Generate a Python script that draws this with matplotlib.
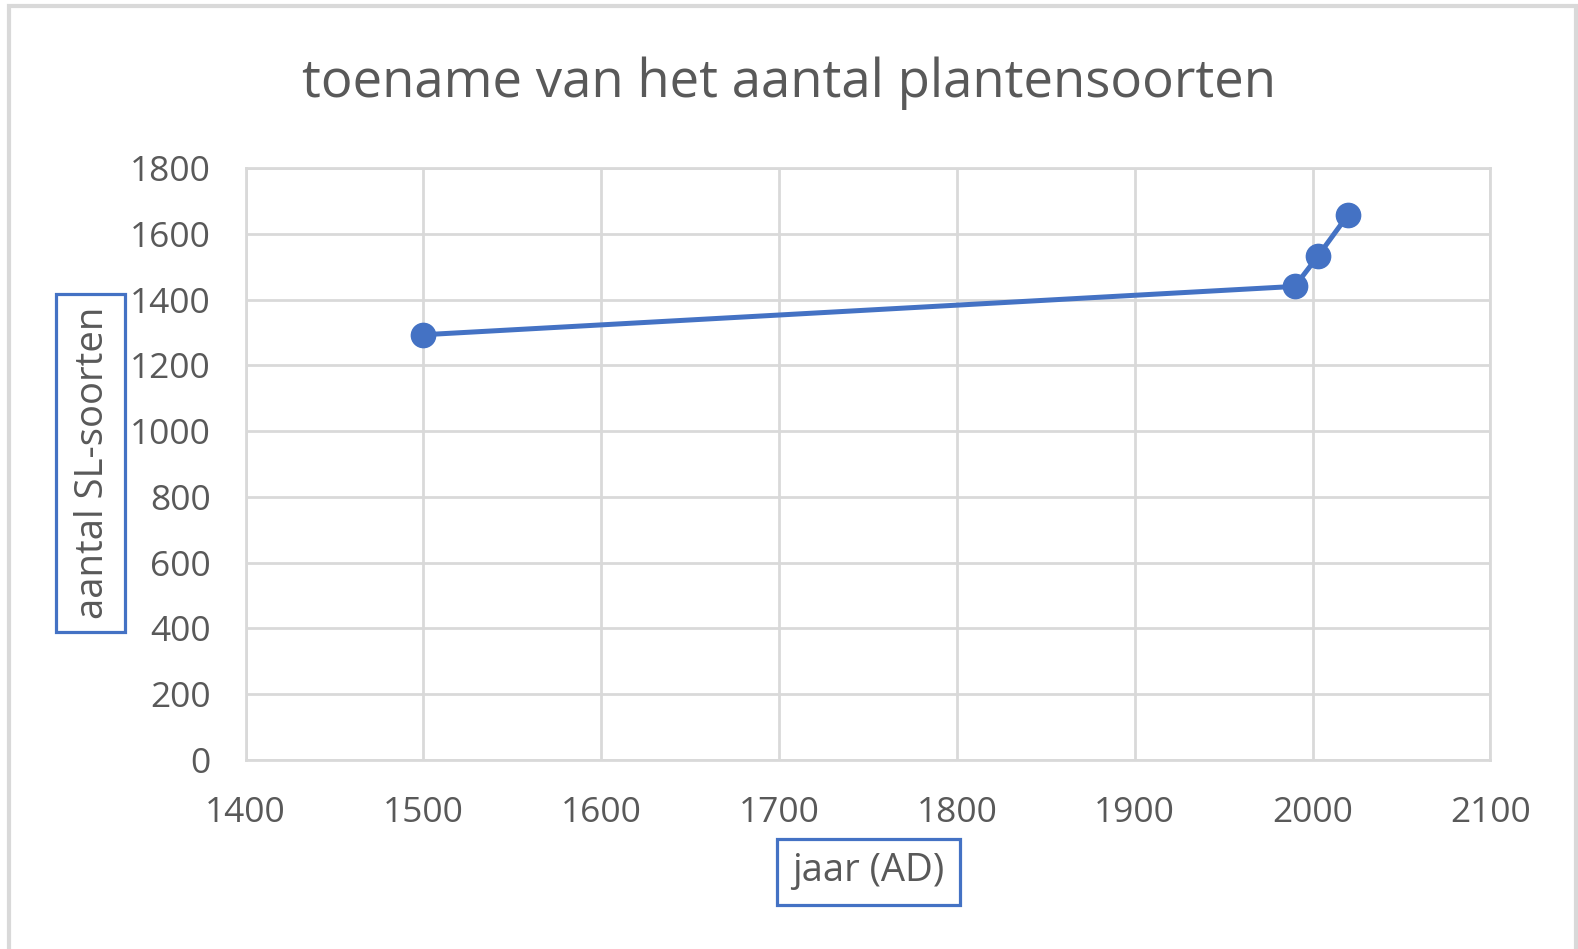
import matplotlib
matplotlib.use("Agg")
import matplotlib.pyplot as plt
from matplotlib.patches import Rectangle

years = [1500, 1990, 2003, 2020]
species = [1293, 1440, 1532, 1658]
x_ticks = [1400, 1500, 1600, 1700, 1800, 1900, 2000, 2100]
y_ticks = [0, 200, 400, 600, 800, 1000, 1200, 1400, 1600, 1800]
title = "toename van het aantal plantensoorten"
xlabel = "jaar (AD)"
ylabel = "aantal SL-soorten"

W, H = 1578, 949
plt.rcParams['font.family'] = ['Open Sans', 'DejaVu Sans']
fig = plt.figure(figsize=(W / 100, H / 100), dpi=100)
fig.patch.set_facecolor('white')

left, right, top, bottom = 245.6, 1490.4, 168.0, 760.0
ax = fig.add_axes([left / W, 1 - bottom / H, (right - left) / W, (bottom - top) / H])

grid_c = '#d9d9d9'
text_c = '#595959'
blue = '#4472c4'

ax.plot(years, species, color=blue, lw=3.6, marker='o', markersize=17.5,
        markerfacecolor=blue, markeredgecolor=blue, zorder=3, clip_on=False)
ax.set_xlim(1400, 2100)
ax.set_ylim(0, 1800)
ax.set_xticks(x_ticks)
ax.set_yticks(y_ticks)
ax.grid(True, color=grid_c, lw=2.0)
ax.set_axisbelow(True)
for s in ax.spines.values():
    s.set_color(grid_c)
    s.set_linewidth(2.0)
ax.tick_params(length=0, labelsize=25.5, labelcolor=text_c)
ax.tick_params(axis='x', pad=26)
ax.tick_params(axis='y', pad=25)

fig.text(789 / W, 1 - 83 / H, title, ha='center', va='center', fontsize=38, color=text_c)

# axis titles in blue boxes
fig.text(93 / W, 1 - 463 / H, ylabel, rotation=90, ha='center', va='center',
         fontsize=27.5, color=text_c)
fig.add_artist(Rectangle((56 / W, 1 - 632 / H), (125 - 56) / W, (632 - 294) / H,
                         transform=fig.transFigure, fill=False, edgecolor=blue, lw=2.3))
fig.text(868 / W, 1 - 871 / H, xlabel, ha='center', va='center',
         fontsize=27.5, color=text_c)
fig.add_artist(Rectangle((777 / W, 1 - 905 / H), (960 - 777) / W, (905 - 839) / H,
                         transform=fig.transFigure, fill=False, edgecolor=blue, lw=2.3))

# outer chart border
fig.add_artist(Rectangle((9 / W, -0.05), (1576 - 9) / W, 1.05 - 6 / H,
                         transform=fig.transFigure, fill=False, edgecolor='#d9d9d9', lw=3.0))

fig.savefig('out.png', dpi=100, facecolor='white')
